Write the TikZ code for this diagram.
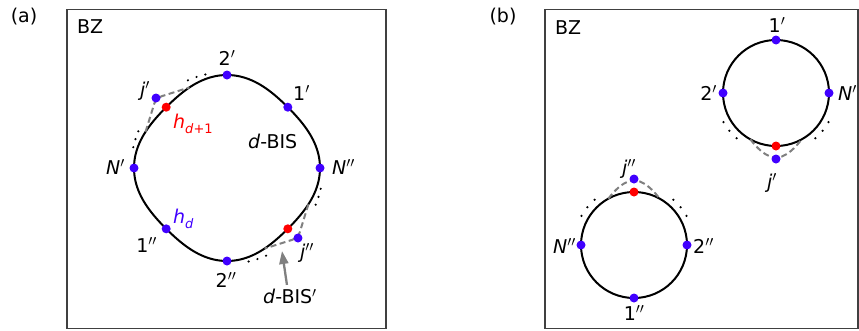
\documentclass[tikz,border=0pt]{standalone}
\usepackage{fontspec}
\setmainfont{DejaVu Sans}
\usetikzlibrary{arrows.meta}
\definecolor{ptblue}{RGB}{64,0,255}
\definecolor{ptred}{RGB}{255,0,0}
\definecolor{framegray}{RGB}{64,64,64}
\definecolor{bisgray}{RGB}{128,128,128}
\newcommand{\lowidx}[1]{\raisebox{-0.28em}{\fontsize{13}{14}\selectfont #1}}
\newcommand{\pr}{$'$}
\newcommand{\ppr}{$''$}

\begin{document}
\begin{tikzpicture}[x=1pt, y=-1pt, font=\fontsize{19}{22}\selectfont,
    bdot/.style={circle, fill=ptblue, inner sep=0pt, minimum size=9pt},
    rdot/.style={circle, fill=ptred, inner sep=0pt, minimum size=9pt},
    lbl/.style={inner sep=0pt},
    panel/.style={framegray, line width=1.5pt},
    bis/.style={black, line width=2pt},
    bisp/.style={bisgray, line width=2pt, dash pattern=on 6pt off 3.5pt, rounded corners=6pt},
    gap/.style={black},
    ]
  \useasboundingbox (0,0) rectangle (859,330);

  % frames
  \node[lbl] (taga) at (24,17) {(a)};
  \node[lbl] (tagb) at (503,17) {(b)};
  \draw[panel] (67,9.5) rectangle (386,328.5);
  \draw[panel] (545,9.5) rectangle (858,328.5);
  \node[lbl, anchor=base west] (bza) at (77,33) {BZ};
  \node[lbl, anchor=base west] (bzb) at (555,34) {BZ};

  % (a) one closed d-BIS
  \begin{scope}[shift={(227,168)}]
    \draw[bis] plot[domain=0:360, samples=181] (\x:{89.5+3.5*cos(4*\x)}) -- cycle;
    \foreach \a in {192.5,197.5,202.5, 246,251.5,257, 12.5,17.5,22.5, 66,71.5,77}
      \fill[gap] (\a:96) circle (1.2pt);
    \coordinate (da1) at (204:89.1);
    \coordinate (da2) at (245:88.9);
    \coordinate (db1) at (24:89.1);
    \coordinate (db2) at (65:88.9);
    \coordinate (jpa) at (224.6:99.7);
    \coordinate (jppa) at (44.6:99.7);
    \draw[bisp] (da1) -- (jpa) -- (da2);
    \draw[bisp] (db1) -- (jppa) -- (db2);
    \node[bdot] (npa) at (180:93) {};
    \node[bdot] (tpa) at (270:93) {};
    \node[bdot] (opa) at (315:86) {};
    \node[bdot] (nppa) at (0:93) {};
    \node[bdot] (tppa) at (90:93) {};
    \node[bdot] (oppa) at (135:86) {};
    \node[rdot] (hda) at (225:86) {};
    \node[rdot] (hdb) at (45:86) {};
    \node[bdot] (jpd) at (jpa) {};
    \node[bdot] (jppd) at (jppa) {};
  \end{scope}
  \node[lbl, anchor=base] (ltpa) at (227,65) {2\pr};
  \node[lbl, anchor=base west] (lopa) at (293,100) {1\pr};
  \node[lbl, anchor=base west] (ljpa) at (140,96) {\textit{j}\pr};
  \node[lbl, anchor=base west, text=ptred] (lhda) at (173,128) {\textit{h}\lowidx{\textit{d}+1}};
  \node[lbl, anchor=base west] (lbis) at (248,148.5) {\textit{d}-BIS};
  \node[lbl, anchor=base east] (lnpa) at (125,174) {\textit{N}\pr};
  \node[lbl, anchor=base west] (lnppa) at (332,174) {\textit{N}\ppr};
  \node[lbl, anchor=base west, text=ptblue] (lhd) at (173,223) {\textit{h}\lowidx{\textit{d}}};
  \node[lbl, anchor=base east] (loppa) at (157,252) {1\ppr};
  \node[lbl, anchor=base] (ltppa) at (226,287) {2\ppr};
  \node[lbl, anchor=base west] (ljppa) at (300,258) {\textit{j}\ppr};
  \node[lbl, anchor=base west] (lbisp) at (263,303.5) {\textit{d}-BIS\pr};
  \coordinate (bistip) at (282,251);
  \draw[bisgray, line width=2.3pt, -{Triangle[length=13pt, width=9pt]}]
    ([xshift=-3pt, yshift=4pt]lbisp.north) -- (bistip);

  % (b) upper d-BIS
  \begin{scope}[shift={(776,93)}]
    \draw[bis] (0,0) circle (53pt);
    \foreach \a in {131,141,151, 29,39,49}
      \fill[gap] (\a:60) circle (1.2pt);
    \coordinate (ub1) at (119:53);
    \coordinate (ub2) at (61:53);
    \coordinate (jpb) at (90:66);
    \draw[bisp] (ub1) to[bend right=15] (jpb) to[bend right=15] (ub2);
    \node[bdot] (opb) at (270:53) {};
    \node[bdot] (tpb) at (180:53) {};
    \node[bdot] (npb) at (0:53) {};
    \node[rdot] (hub) at (90:53) {};
    \node[bdot] (jpdb) at (jpb) {};
  \end{scope}
  \node[lbl, anchor=base] (lopb) at (777,32) {1\pr};
  \node[lbl, anchor=base east] (ltpb) at (717,100) {2\pr};
  \node[lbl, anchor=base west] (lnpb) at (838,100) {\textit{N}\pr};
  \node[lbl, anchor=base west] (ljpb) at (767,188) {\textit{j}\pr};

  % (b) lower d-BIS
  \begin{scope}[shift={(634,245)}]
    \draw[bis] (0,0) circle (53pt);
    \foreach \a in {209,219,229, 311,321,331}
      \fill[gap] (\a:60) circle (1.2pt);
    \coordinate (lb1) at (241:53);
    \coordinate (lb2) at (299:53);
    \coordinate (jppb) at (270:66);
    \draw[bisp] (lb1) to[bend left=15] (jppb) to[bend left=15] (lb2);
    \node[bdot] (oppb) at (90:53) {};
    \node[bdot] (nppb) at (180:53) {};
    \node[bdot] (tppb) at (0:53) {};
    \node[rdot] (hlb) at (270:53) {};
    \node[bdot] (jppdb) at (jppb) {};
  \end{scope}
  \node[lbl, anchor=base west] (ljppb) at (622,174) {\textit{j}\ppr};
  \node[lbl, anchor=base east] (lnppb) at (576,253) {\textit{N}\ppr};
  \node[lbl, anchor=base west] (ltppb) at (693,253) {2\ppr};
  \node[lbl, anchor=base] (loppb) at (634,320) {1\ppr};
\end{tikzpicture}
\end{document}
